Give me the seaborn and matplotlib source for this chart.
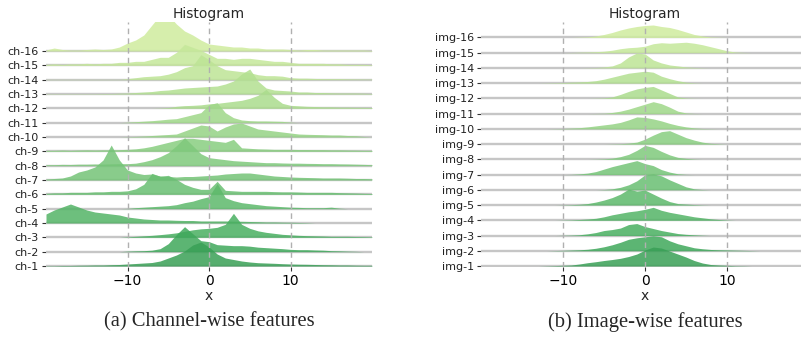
import numpy as np
import matplotlib
matplotlib.use("Agg")
import matplotlib.pyplot as plt
import seaborn as sns

# ---------------- data ----------------
# bin centres (x) shared by every ridge
X_BINS = list(range(-20, 21))
X_TICKS = [-10, 0, 10]

CH_LABELS = [f"ch-{i}" for i in range(1, 17)]
IMG_LABELS = [f"img-{i}" for i in range(1, 17)]

# channel-wise histograms (heights per bin, x = -20 .. 20)
ch_1 = [0.3, 0.3, 0.5, 0.5, 0.7, 0.8, 1, 1, 1.3, 1.5,
        2, 2.5, 3, 3.5, 5, 8, 11, 15, 21, 24,
        19,
        12, 8, 6.5, 5, 4, 3.3, 3, 2.7, 2.3, 2,
        1.8, 1.7, 1.5, 1.3, 1.2, 1, 1, 0.8, 0.7, 0.7]
ch_2 = [0, 0, 0, 0, 0, 0, 0, 0, 0, 0,
        0.5, 0.8, 1, 1.5, 3, 8, 17, 25, 18, 11,
        10,
        7, 6.5, 6, 6, 5.5, 4.5, 4, 3.5, 3, 2.3,
        2, 2, 1.7, 1.5, 1, 0.8, 0.5, 0.3, 0, 0]
ch_3 = [0, 0, 0, 0, 0, 0, 0, 0, 0, 0,
        0.5, 1, 1.5, 2, 2.7, 3.5, 4.5, 6, 7.5, 8.5,
        9,
        10, 13, 24, 13, 9, 6.5, 5, 4, 3, 2.5,
        2, 1.7, 1.5, 1.3, 1, 1, 1, 0.8, 0.7, 0.5]
ch_4 = [9, 13, 16, 19, 16, 13, 11, 10, 9, 8,
        6, 5, 4, 3.5, 3, 3, 2.7, 2.5, 2.5, 2,
        2,
        2, 2, 1.8, 1.7, 1.5, 1.3, 1, 1, 0.8, 0.7,
        0.5, 0.3, 0, 0, 0, 0, 0, 0, 0, 0]
ch_5 = [0, 0, 0, 0, 0, 0, 0, 0, 0, 0,
        0.3, 1, 1.5, 2, 2.5, 3, 4, 6, 7.5, 10,
        12,
        25, 11, 8, 6, 5, 4, 3, 2.5, 2, 1.5,
        1.3, 1, 1, 1, 1.5, 0.5, 0, 0, 0, 0]
ch_6 = [1, 1.5, 1.5, 2, 2, 2, 2.5, 2.5, 3, 3,
        3.5, 5.5, 10, 21, 18, 19, 15, 10, 7, 5,
        5,
        13, 4, 3.5, 3, 3, 3, 3, 2.7, 2.5, 2.5,
        2.3, 2, 2, 2, 2, 1.7, 1.5, 1.3, 1, 0.8]
ch_7 = [1, 1.5, 2, 4, 8, 10, 13, 20, 35, 20,
        10, 7, 5.5, 6, 4, 3.5, 3, 3.5, 3.5, 4,
        4.5,
        5, 6, 6.5, 7, 7, 6, 5, 4, 3.5, 3,
        2.7, 2.5, 2.3, 2, 2, 2, 1.8, 1.5, 1.5, 1.2]
ch_8 = [1, 1, 1.3, 1.2, 1.5, 1.5, 1.7, 1.5, 1.8, 2,
        2, 2.5, 4, 6, 9, 13, 20, 28, 20, 12,
        8,
        7, 6, 5, 4.5, 4, 3.5, 3, 3, 2.7, 2.5,
        2.5, 2.3, 2.2, 2, 2, 1.8, 1.7, 1.5, 1.3, 1]
ch_9 = [1, 1, 1.3, 1, 1.3, 1.5, 1.3, 1.5, 1.5, 1.7,
        2, 2.5, 3.5, 5, 7, 9, 11, 13, 13, 12,
        11,
        10, 9, 12, 3.5, 3, 2.5, 2.3, 2, 2, 2,
        1.8, 1.8, 1.7, 1.7, 1.5, 1.5, 1.3, 1.2, 1, 1]
ch_10 = [0, 0, 0, 0, 0, 0, 0, 0, 0, 0,
         0.3, 0.6, 1, 1.5, 2, 2.5, 3, 6, 9, 12,
         11,
         6, 10, 13, 14, 11, 8, 7, 6, 5, 4,
         3, 2.7, 2.5, 2.3, 2, 2, 1.5, 1.3, 0.5, 0]
ch_11 = [0, 0, 0, 0, 0, 0, 0, 0, 0, 0,
         0.5, 1, 1.5, 2, 2.7, 3.5, 4, 6, 8, 10,
         18,
         20, 10, 5, 2.7, 2, 1.7, 1.7, 1.5, 1.3, 0.5,
         0, 0, 0, 0, 0, 0, 0, 0, 0, 0]
ch_12 = [0, 0, 0, 0, 0, 0, 0, 0, 0, 0,
         0, 0, 0, 0, 0.3, 0.8, 2, 2.7, 3, 3.5,
         4.5,
         5, 6, 7, 8, 10, 13, 19, 11, 5, 3,
         2.5, 2, 1.8, 1.5, 1.5, 1.2, 1.2, 1, 1, 0.8]
ch_13 = [0.3, 0.3, 0.3, 0.3, 0.3, 0.3, 0.3, 0.5, 0.5, 0.8,
         1, 1.5, 2, 2.5, 3.5, 4, 5, 6, 6.5, 7,
         7.5,
         8, 10, 13, 20, 25, 13, 6, 4, 3.5, 3,
         2, 2, 1.5, 1.5, 1.2, 1, 1, 1, 0.8, 0.5]
ch_14 = [0.3, 0.3, 0.3, 0.3, 0.3, 0.3, 0.3, 0.3, 0.3, 0.3,
         1, 2, 3, 3.5, 4, 5.5, 8, 12, 14, 25,
         20,
         14, 10, 9, 8, 7, 5, 4, 4, 3.5, 2,
         1.5, 1.5, 1.2, 1, 1, 1, 0.8, 0.7, 0.6, 0.5]
ch_15 = [1, 1.5, 1, 1.5, 1.5, 2, 1.5, 2, 2, 3,
         3, 4, 4, 6, 8, 8, 13, 21, 18, 15,
         11,
         7, 7, 6, 7, 7, 6, 5, 4, 4, 3,
         2, 2, 2, 2, 1.5, 1.5, 1, 1, 1, 0.5]
ch_16 = [1, 3, 1.5, 1, 1, 1.5, 2, 1.5, 2, 4,
         8, 11, 16, 26, 36, 36, 27, 20, 16, 11,
         7,
         6, 5, 4, 4, 3, 3, 2, 2, 2, 1.5,
         1, 1.5, 1.5, 1, 1, 1, 1, 1, 1, 0.5]

# image-wise histograms
img_1 = [0, 0, 0, 0, 0, 0, 0, 0, 0.2, 0.4,
         0.7, 1, 2, 3.3, 4.3, 5.5, 6.5, 7.7, 9.5, 12,
         16,
         19, 18, 15, 12, 9, 5.5, 3, 1.5, 1, 0.7,
         0.3, 0.2, 0, 0, 0, 0, 0, 0, 0, 0]
img_2 = [0, 0, 0, 0, 0, 0, 0, 0, 0, 0.2,
         0.4, 0.7, 1, 1.5, 2.5, 4, 6, 8.5, 11.5, 13,
         14,
         15, 14, 10, 7, 5, 3, 2, 1.3, 1, 0.8,
         0.6, 0.4, 0.2, 0, 0, 0, 0, 0, 0, 0]
img_3 = [0, 0, 0, 0, 0, 0, 0, 0, 0, 0,
         0.2, 0.4, 0.8, 1.7, 3, 5, 6, 7.5, 11, 12,
         9,
         7, 5, 3.5, 2, 1.2, 0.7, 0.3, 0, 0, 0,
         0, 0, 0, 0, 0, 0, 0, 0, 0, 0]
img_4 = [0, 0, 0, 0, 0, 0, 0, 0, 0, 0,
         0.2, 0.4, 0.8, 1.3, 2, 3.5, 5.5, 7, 8.5, 9.5,
         11,
         13, 10, 8, 6.5, 5, 3.5, 2.5, 1.5, 0.8, 0.3,
         0, 0, 0, 0, 0, 0, 0, 0, 0, 0]
img_5 = [0, 0, 0, 0, 0, 0, 0, 0, 0, 0,
         0.2, 0.4, 0.8, 1.5, 3, 5, 7.5, 11, 16, 14,
         15,
         11, 7, 3.5, 1.5, 1, 0.5, 0.2, 0, 0, 0,
         0, 0, 0, 0, 0, 0, 0, 0, 0, 0]
img_6 = [0, 0, 0, 0, 0, 0, 0, 0, 0, 0,
         0, 0, 0, 0, 0, 0.3, 1, 2.5, 5, 9,
         15,
         16, 14, 10, 6.5, 3, 1, 0.3, 0, 0, 0,
         0, 0, 0, 0, 0, 0, 0, 0, 0, 0]
img_7 = [0, 0, 0, 0, 0, 0, 0, 0, 0, 0,
         0, 0.2, 0.7, 1.5, 3, 5.5, 8, 10, 12, 14,
         11,
         9, 5, 2.5, 0.8, 0.2, 0, 0, 0, 0, 0,
         0, 0, 0, 0, 0, 0, 0, 0, 0, 0]
img_8 = [0, 0, 0, 0, 0, 0, 0, 0, 0, 0,
         0, 0, 0, 0, 0.2, 0.5, 1.2, 2.7, 5, 9,
         14,
         12, 8, 4.5, 2, 1, 0.3, 0, 0, 0, 0,
         0, 0, 0, 0, 0, 0, 0, 0, 0, 0]
img_9 = [0, 0, 0, 0, 0, 0, 0, 0, 0, 0,
         0, 0, 0, 0, 0, 0, 0.2, 0.4, 1, 2,
         5,
         9, 12.5, 13.5, 10, 6.5, 4, 2, 0.8, 0.3, 0,
         0, 0, 0, 0, 0, 0, 0, 0, 0, 0]
img_10 = [0, 0, 0, 0, 0, 0, 0, 0, 0, 0.2,
          0.4, 0.8, 1.2, 2, 3, 4, 5, 6.5, 9, 12,
          11.5,
          10, 8, 5.5, 3.5, 2, 1, 0.4, 0.2, 0, 0,
          0, 0, 0, 0, 0, 0, 0, 0, 0, 0]
img_11 = [0, 0, 0, 0, 0, 0, 0, 0, 0, 0,
          0, 0, 0, 0, 0.2, 0.4, 1.2, 2.5, 4.5, 7,
          9.5,
          12, 10, 6.5, 2.5, 0.7, 0.2, 0, 0, 0, 0,
          0, 0, 0, 0, 0, 0, 0, 0, 0, 0]
img_12 = [0, 0, 0, 0, 0, 0, 0, 0, 0, 0,
          0, 0, 0, 0, 0.2, 0.5, 1.5, 4, 7, 9.5,
          11,
          12, 8.5, 5, 1.5, 0.4, 0.1, 0, 0, 0, 0,
          0, 0, 0, 0, 0, 0, 0, 0, 0, 0]
img_13 = [0, 0, 0, 0, 0, 0, 0, 0, 0.2, 0.4,
          0.6, 1, 1.3, 1.7, 2.5, 4, 6, 8, 10, 11,
          12,
          11, 7, 4.5, 2.5, 1, 0.3, 0, 0, 0, 0,
          0, 0, 0, 0, 0, 0, 0, 0, 0, 0]
img_14 = [0, 0, 0, 0, 0, 0, 0, 0, 0, 0,
          0, 0, 0, 0.2, 0.4, 1, 2, 5, 11, 15,
          14,
          8, 5, 3, 2, 1, 0.5, 0.2, 0, 0, 0,
          0, 0, 0, 0, 0, 0, 0, 0, 0, 0]
img_15 = [0, 0, 0, 0, 0, 0, 0, 0, 0, 0,
          0, 0.2, 0.5, 0.7, 1, 1.5, 2.5, 4, 5, 5.5,
          6.5,
          9, 10, 9.5, 10, 10.5, 9.5, 8, 6, 4, 2,
          0.7, 0.3, 0, 0, 0, 0, 0, 0, 0, 0]
img_16 = [0, 0, 0, 0, 0, 0, 0, 0, 0, 0,
          0, 0, 0.3, 0.6, 1.5, 3, 5, 7.5, 9.5, 11,
          12,
          12.5, 11, 10, 8, 5.5, 3, 1.5, 0.5, 0.2, 0,
          0, 0, 0, 0, 0, 0, 0, 0, 0, 0]

CH_SERIES = [ch_1, ch_2, ch_3, ch_4, ch_5, ch_6, ch_7, ch_8,
             ch_9, ch_10, ch_11, ch_12, ch_13, ch_14, ch_15, ch_16]
IMG_SERIES = [img_1, img_2, img_3, img_4, img_5, img_6, img_7, img_8,
              img_9, img_10, img_11, img_12, img_13, img_14, img_15, img_16]

# ---------------- style ----------------
sns.set_theme(style="ticks")
plt.rcParams["font.family"] = ["DejaVu Sans"]

W, H = 801, 343
fig = plt.figure(figsize=(W / 100, H / 100), dpi=100)

cmap = sns.color_palette("YlGn", as_cmap=True)


def ridges(ax, series, labels, row, top_extra):
    n = len(series)
    cols = [cmap(v) for v in np.linspace(0.66, 0.28, n)]
    x = np.array(X_BINS, dtype=float)
    for i in reversed(range(n)):
        base = i * row
        z = 2 + (n - 1 - i) * 2
        ax.axhline(base, color="#c6c6c6", lw=1.7, zorder=z)
        h = np.array(series[i], dtype=float)
        ax.fill_between(x, base, base + h, color=cols[i], alpha=0.85,
                        lw=0, zorder=z + 1)
    for v in X_TICKS:
        ax.axvline(v, color="#b0b0b0", lw=1.0, ls=(0, (4, 3)), zorder=200)
    ax.set_xlim(-20, 20)
    ax.set_ylim(-1, (n - 1) * row + top_extra)
    ax.set_yticks([i * row for i in range(n)])
    ax.set_yticklabels(labels, fontsize=8)
    ax.set_xticks(X_TICKS)
    ax.tick_params(axis="x", labelsize=10, length=3, width=0.8, pad=2,
                   colors="#333333", labelcolor="black")
    ax.tick_params(axis="y", length=3, width=0.8, pad=2, colors="#333333",
                   labelcolor="#222222")
    for s in ax.spines.values():
        s.set_visible(False)
    ax.set_title("Histogram", fontsize=10, pad=3)
    ax.set_xlabel("x", fontsize=10, labelpad=1)
    ax.grid(False)


axL = fig.add_axes([46 / W, 1 - 267 / H, 326 / W, 245 / H])
ridges(axL, CH_SERIES, CH_LABELS, 14.33, 29)

axR = fig.add_axes([481 / W, 1 - 267 / H, 328 / W, 245 / H])
ridges(axR, IMG_SERIES, IMG_LABELS, 15.27, 15.5)

fig.text(209 / W, 1 - 322 / H, "(a) Channel-wise features",
         family="Liberation Serif", fontsize=14.8, ha="center", va="center")
fig.text(645 / W, 1 - 322 / H, "(b) Image-wise features",
         family="Liberation Serif", fontsize=14.8, ha="center", va="center")

fig.savefig("out.png", dpi=100)
